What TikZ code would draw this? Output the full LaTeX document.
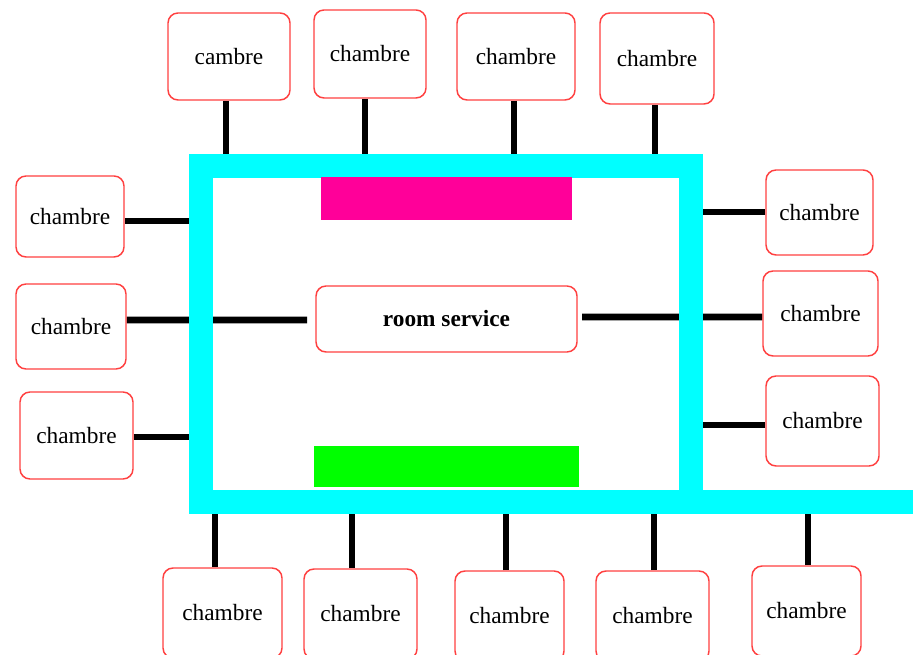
\documentclass[tikz,border=0pt]{standalone}
\usepackage{fontspec}
\setmainfont{Liberation Serif}
\usetikzlibrary{backgrounds}
\definecolor{boxred}{RGB}{255,64,64}
\definecolor{framecyan}{RGB}{0,255,255}
\definecolor{barpink}{RGB}{255,0,153}
\definecolor{bargreen}{RGB}{0,255,0}
\tikzset{
  room/.style 2 args={draw=boxred, line width=1.1pt, fill=white, rounded corners=7.5pt,
    inner sep=0pt, minimum width=#1*0.75pt, minimum height=#2*0.75pt,
    font=\fontsize{17.5}{20}\selectfont},
  link/.style={line width=5pt, black},
  frame/.style={line width=18pt, framecyan, line join=miter}
}
\begin{document}
\begin{tikzpicture}[x=0.75pt,y=-0.75pt]
\useasboundingbox (0,0) rectangle (913,655);
\clip (0,0) rectangle (913,655);
% rooms
\node[room={122}{87}] (T1) at (229,56.5) {cambre};
\node[room={112}{88}] (T2) at (370,54) {chambre};
\node[room={118}{87}] (T3) at (516,56.5) {chambre};
\node[room={114}{91}] (T4) at (657,58.5) {chambre};
\node[room={108}{81}] (L1) at (70,216.5) {chambre};
\node[room={110}{85}] (L2) at (71,326.5) {chambre};
\node[room={113}{87}] (L3) at (76.5,435.5) {chambre};
\node[room={107}{85}] (R1) at (819.5,212.5) {chambre};
\node[room={115}{85}] (R2) at (820.5,313.5) {chambre};
\node[room={113}{90}] (R3) at (822.5,421) {chambre};
\node[room={119}{90}] (B1) at (222.5,613) {chambre};
\node[room={113}{90}] (B2) at (360.5,614) {chambre};
\node[room={109}{90}] (B3) at (509.5,616) {chambre};
\node[room={113}{90}] (B4) at (652.5,616) {chambre};
\node[room={109}{90}] (B5) at (806.5,611) {chambre};
\node[room={261}{66}, font=\fontsize{17.5}{20}\selectfont\bfseries] (RS) at (446.5,319) {room service};
% junction levels on the corridor
\coordinate (jT) at (0,166.5);
\coordinate (jB) at (0,501.5);
\coordinate (jL) at (200.5,0);
\coordinate (jR) at (691,0);
\coordinate (rsL) at (307,320);
\coordinate (rsR) at (582,317);
\begin{scope}[on background layer]
% connectors
\draw[link] ([xshift=-2.25pt]T1.south) -- ([xshift=-2.25pt]T1.south |- jT);
\draw[link] ([xshift=-3.75pt]T2.south) -- ([xshift=-3.75pt]T2.south |- jT);
\draw[link] ([xshift=-1.5pt]T3.south) -- ([xshift=-1.5pt]T3.south |- jT);
\draw[link] ([xshift=-1.5pt]T4.south) -- ([xshift=-1.5pt]T4.south |- jT);
\draw[link] ([xshift=-5.6pt]B1.north) -- ([xshift=-5.6pt]B1.north |- jB);
\draw[link] ([xshift=-6.4pt]B2.north) -- ([xshift=-6.4pt]B2.north |- jB);
\draw[link] ([xshift=-2.6pt]B3.north) -- ([xshift=-2.6pt]B3.north |- jB);
\draw[link] ([xshift=1.1pt]B4.north) -- ([xshift=1.1pt]B4.north |- jB);
\draw[link] ([xshift=1.1pt]B5.north) -- ([xshift=1.1pt]B5.north |- jB);
\draw[link] ([yshift=-3.4pt]L1.east) -- ([yshift=-3.4pt]L1.east -| jL);
\draw[link] ([yshift=4.9pt]L2.east) -- (rsL);
\draw[link] ([yshift=-1.1pt]L3.east) -- ([yshift=-1.1pt]L3.east -| jL);
\draw[link] ([yshift=0.4pt]R1.west) -- ([yshift=0.4pt]R1.west -| jR);
\draw[link] ([yshift=-2.6pt]R2.west) -- (rsR);
\draw[link] ([yshift=-3pt]R3.west) -- ([yshift=-3pt]R3.west -| jR);
% corridor frame
\draw[frame] (920,501.5) -- (200.5,501.5) -- (200.5,166.5) -- (691,166.5) -- (691,501.5);
% coloured bars
\fill[barpink] (321,177) rectangle (572,220);
\fill[bargreen] (314,446) rectangle (579,487);
\end{scope}
\end{tikzpicture}
\end{document}
